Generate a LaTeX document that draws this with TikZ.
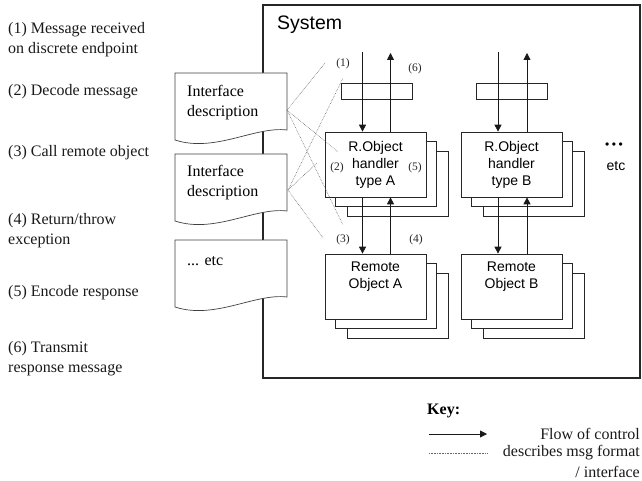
\documentclass[tikz,border=0pt]{standalone}
\usepackage{fontspec}
\setmainfont{Liberation Serif}
\setsansfont{Liberation Sans}
\usetikzlibrary{arrows.meta}
\newcommand\drawdoc[1]{%
  \draw[docshape] (175,#1) -- (287,#1) -- (287,{#1+57})
    .. controls (255,{#1+53}) and (215,{#1+80}) .. (175,{#1+67}) -- cycle;}
\newcommand\stk[2]{%
  \draw[backbox] ({#1-50.5+22},{#2-32.5+19}) rectangle ++(101,65);
  \draw[backbox] ({#1-50.5+10},{#2-32.5+9}) rectangle ++(101,65);}
\begin{document}
\begin{tikzpicture}[x=1pt,y=-1pt,
  lefttext/.style={font=\fontsize{16}{20}\selectfont, align=left, inner sep=0, anchor=west, text=black!90},
  doctext/.style={font=\fontsize{16}{20}\selectfont, align=left, inner sep=0, anchor=west},
  docshape/.style={draw=black!75, fill=white, line width=0.7pt},
  backbox/.style={draw=black!85, fill=white, line width=0.7pt},
  box/.style={draw=black!85, fill=white, line width=0.7pt, minimum width=101pt, minimum height=65pt, inner sep=0, align=center, font=\sffamily\fontsize{14}{17}\selectfont},
  boxtext/.style={inner sep=0, align=center, font=\sffamily\fontsize{14}{17}\selectfont},
  smallbox/.style={draw=black!85, line width=0.7pt, minimum width=71pt, minimum height=16pt, inner sep=0},
  flow/.style={-{Triangle[length=7pt,width=7pt]}, line width=0.8pt, black!90},
  iface/.style={densely dotted, black!60, line width=0.6pt},
  steplbl/.style={font=\fontsize{11.5}{12}\selectfont, inner sep=0, text=black!85}]
\useasboundingbox (0,0) rectangle (642,481);

% left column
\node[lefttext] (t1) at (8,40) {(1) Message received\\on discrete endpoint};
\node[lefttext] (t2) at (8,92) {(2) Decode message};
\node[lefttext] (t3) at (8,153) {(3) Call remote object};
\node[lefttext] (t4) at (8,231) {(4) Return/throw\\exception};
\node[lefttext] (t5) at (8,293) {(5) Encode response};
\node[lefttext] (t6) at (8,359) {(6) Transmit\\response message};

% system
\node[draw=black!85, line width=1.6pt, minimum width=377pt, minimum height=373pt, inner sep=0] (sys) at (451.5,191.5) {};
\node[font=\sffamily\fontsize{19.5}{22}\selectfont, inner sep=0, anchor=west] (systxt) at (277,25) {System};

% documents
\drawdoc{73}
\node[doctext] (d1) at (187,103) {Interface\\description};
\drawdoc{154}
\node[doctext] (d2) at (187,183) {Interface\\description};
\drawdoc{240}
\node[doctext] (d3) at (187,261) {... etc};

% handler stacks
\stk{375.5}{164.5}
\node[box] (hA) at (375.5,164.5) {R.Object\\handler\\type A};
\stk{511.5}{164.5}
\node[box] (hB) at (511.5,164.5) {R.Object\\handler\\type B};

% remote object stacks
\stk{375.5}{286.5}
\node[box] (rA) at (375.5,286.5) {};
\node[boxtext] (rAt) at (375.5,277) {Remote\\Object A};
\stk{511.5}{286.5}
\node[box] (rB) at (511.5,286.5) {};
\node[boxtext] (rBt) at (511.5,277) {Remote\\Object B};

% small endpoint boxes
\node[smallbox] (sA) at (376.5,91) {};
\node[smallbox] (sB) at (511.5,91) {};

% flow arrows A
\coordinate (inA) at (362.5,52);
\coordinate (outA) at (390.5,53);
\draw[flow] (inA) -- (inA |- hA.north);
\draw[flow] (outA |- hA.north) -- (outA);
\draw[flow] (inA |- hA.south) -- (inA |- rA.north);
\draw[flow] (outA |- rA.north) -- (outA |- hA.south);
% flow arrows B
\coordinate (inB) at (498,52);
\coordinate (outB) at (527,53);
\draw[flow] (inB) -- (inB |- hB.north);
\draw[flow] (outB |- hB.north) -- (outB);
\draw[flow] (inB |- hB.south) -- (inB |- rB.north);
\draw[flow] (outB |- rB.north) -- (outB |- hB.south);

% step labels
\node[steplbl] (s1) at (343,64) {(1)};
\node[steplbl] (s6) at (415,69) {(6)};
\node[steplbl] (s2) at (337,168) {(2)};
\node[steplbl] (s5) at (415,168) {(5)};
\node[steplbl] (s3) at (343,240) {(3)};
\node[steplbl] (s4) at (416,240) {(4)};

% interface description links
\coordinate (d1p) at (287,110);
\coordinate (d2p) at (288,190);
\coordinate (e1) at (325,63);
\coordinate (e2) at (338,152);
\coordinate (e3) at (343,225);
\coordinate (e4) at (343,78);
\coordinate (e5) at (317,163);
\coordinate (e6) at (323,238);
\draw[iface] (d1p) -- (e1);
\draw[iface] (d1p) -- (e2);
\draw[iface] (d1p) -- (e3);
\draw[iface] (d2p) -- (e4);
\draw[iface] (d2p) -- (e5);
\draw[iface] (d2p) -- (e6);

% etc
\node[font=\sffamily\fontsize{12}{12}\selectfont, inner sep=0] (dots) at (614,146) {•\hspace{2.5pt}•\hspace{2.5pt}•};
\node[boxtext] (etc) at (616,166) {etc};

% key
\node[font=\bfseries\fontsize{16}{20}\selectfont, inner sep=0, anchor=west] (key) at (427,411) {Key:};
\coordinate (k1a) at (429,434);
\coordinate (k1b) at (487,434);
\draw[flow] (k1a) -- (k1b);
\node[lefttext, anchor=east] (kflow) at (640,434) {Flow of control};
\coordinate (k2a) at (429,453);
\coordinate (k2b) at (487,453);
\draw[iface] (k2a) -- (k2b);
\node[lefttext, anchor=east] (kdesc) at (640,453) {describes msg format};
\node[lefttext, anchor=east] (kint) at (640,472) {/ interface};
\end{tikzpicture}
\end{document}
